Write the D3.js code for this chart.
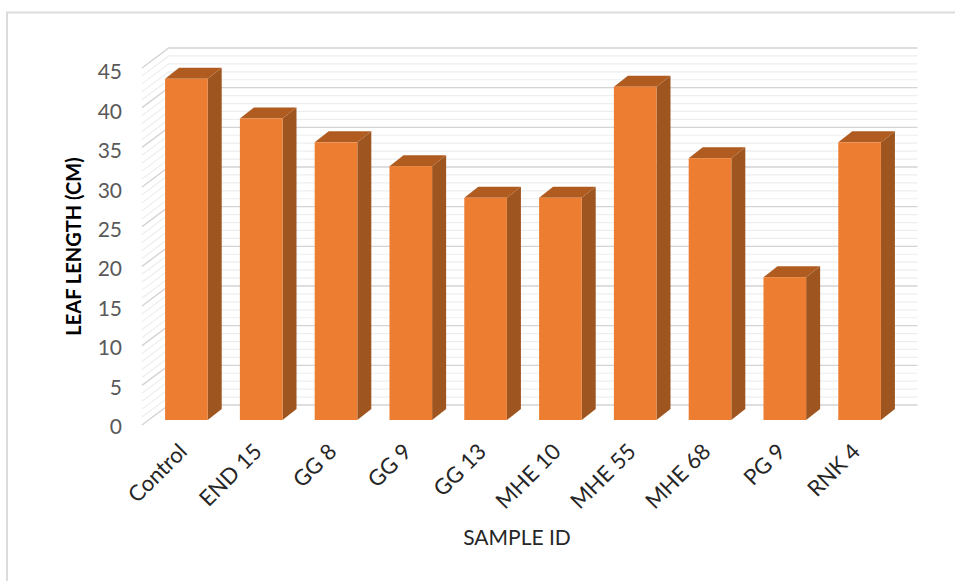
<!DOCTYPE html>
<html>
<head>
<meta charset="utf-8">
<script src="https://cdn.jsdelivr.net/npm/d3@7"></script>
<style>
    html, body { margin: 0; padding: 0; background: #fff; overflow: hidden; }
    svg { display: block; font-family: Lato, "Open Sans", sans-serif; }
</style>
</head>
<body>
<div id="chart"></div>
<script>
const categories = ["Control", "END 15", "GG 8", "GG 9", "GG 13", "MHE 10", "MHE 55", "MHE 68", "PG 9", "RNK 4"];
const leafLength = [43, 38, 35, 32, 28, 28, 42, 33, 18, 35];
const yTicks = [0, 5, 10, 15, 20, 25, 30, 35, 40, 45];

const width = 955;
const height = 581;

const svg = d3.select("#chart")
    .append("svg")
    .attr("width", width)
    .attr("height", height);

// Slide border
svg.append("path")
    .attr("d", `M7,${height} V12.5 H${width}`)
    .attr("fill", "none")
    .attr("stroke", "#dcdcdc")
    .attr("stroke-width", 2);

// Three planes of the 3D chart: side wall front edge, bar fronts, back wall
const yAxisScale = d3.scaleLinear().domain([0, 45]).range([425, 68]);
const yBar = d3.scaleLinear().domain([0, 45]).range([420, 63]);
const yWall = d3.scaleLinear().domain([0, 45]).range([405, 48]);
// Tick labels sit on a slightly tighter spacing than the wall
const yLabel = d3.scaleLinear().domain([0, 45]).range([427, 72]);

const x = d3.scaleBand()
    .domain(categories)
    .range([149, 897])
    .paddingInner(0.43)
    .paddingOuter(0.215);

const wallLeft = 168.7;
const wallRight = 917.5;
const axisLeft = 142;
const depthX = 14;
const depthY = 11;

// Gridlines, minor first so the major ones sit on top
const gridValues = yWall.ticks(45).sort((a, b) => (a % 5 === 0) - (b % 5 === 0));
const grid = svg.append("g").attr("fill", "none");

gridValues.forEach(v => {
    const major = v % 5 === 0;
    grid.append("path")
        .attr("d", `M${axisLeft},${yAxisScale(v)} L${wallLeft},${yWall(v)} H${wallRight}`)
        .attr("stroke", major ? "#d4d4d6" : "#eceef0")
        .attr("stroke-width", major ? 1.4 : 1.2);
});

// Bars
const bars = svg.selectAll(".bar")
    .data(categories)
    .enter()
    .append("g")
    .attr("class", "bar");

bars.append("path")
    .attr("fill", "#9e551f")
    .attr("d", (d, i) => {
        const right = x(d) + x.bandwidth();
        return `M${right},${yBar(leafLength[i])} l${depthX},${-depthY} V${yBar(0) - depthY} l${-depthX},${depthY} Z`;
    });

bars.append("path")
    .attr("fill", "#b05c20")
    .attr("d", (d, i) => {
        const top = yBar(leafLength[i]);
        return `M${x(d)},${top} l${depthX},${-depthY} h${x.bandwidth()} l${-depthX},${depthY} Z`;
    });

bars.append("rect")
    .attr("x", d => x(d))
    .attr("y", (d, i) => yBar(leafLength[i]))
    .attr("width", x.bandwidth())
    .attr("height", (d, i) => yBar(0) - yBar(leafLength[i]))
    .attr("fill", "#ed7d31");

// Y axis labels
const yAxis = svg.append("g")
    .attr("transform", "translate(122,0)")
    .call(d3.axisLeft(yLabel).tickValues(yTicks).tickSize(0).tickPadding(0));
yAxis.select(".domain").remove();
yAxis.selectAll("text")
    .attr("fill", "#595959")
    .style("font-family", "Lato, sans-serif")
    .style("font-size", "21px");

// X axis labels
const xAxis = svg.append("g")
    .attr("transform", "translate(0,436)")
    .call(d3.axisBottom(x).tickSize(0).tickPadding(0));
xAxis.select(".domain").remove();
xAxis.selectAll("text")
    .attr("fill", "#262626")
    .attr("text-anchor", "end")
    .attr("dy", "0")
    .attr("y", 0)
    .attr("transform", "translate(2,17) rotate(-45)")
    .style("font-family", "Lato, sans-serif")
    .style("font-size", "22px");

// Axis titles
svg.append("text")
    .attr("transform", "translate(81,246.5) rotate(-90)")
    .attr("text-anchor", "middle")
    .attr("fill", "#000")
    .style("font-size", "20px")
    .style("font-weight", "700")
    .text("LEAF LENGTH (CM)");

svg.append("text")
    .attr("x", 517)
    .attr("y", 545)
    .attr("text-anchor", "middle")
    .attr("fill", "#262626")
    .style("font-size", "21px")
    .text("SAMPLE ID");
</script>
</body>
</html>
